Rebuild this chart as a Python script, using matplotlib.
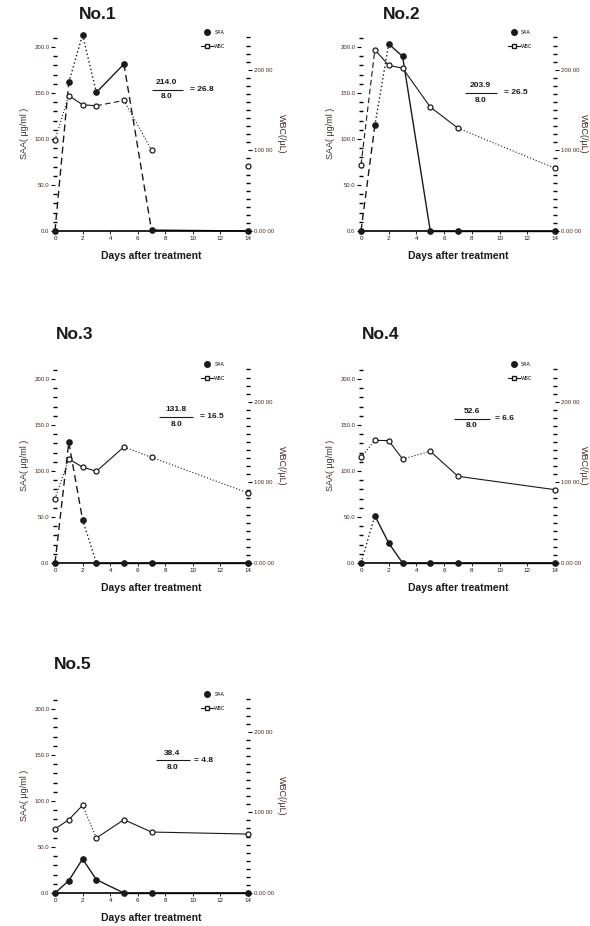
import matplotlib
matplotlib.use('Agg')
import matplotlib.pyplot as plt
from matplotlib.lines import Line2D
from matplotlib.ticker import MultipleLocator, FixedLocator

plt.rcParams['font.family'] = ['Liberation Sans', 'DejaVu Sans']

# ---- data ----
days = [0, 1, 2, 3, 5, 7, 14]
names = ['No.1', 'No.2', 'No.3', 'No.4', 'No.5']

saa1 = [0, 161.5, 213.4, 150.6, 181.5, 1.0, 0]
saa2 = [0, 114.7, 203.3, 189.8, 0, 0, 0]
saa3 = [0, 131.2, 47.1, 0, 0, 0, 0]
saa4 = [0, 51.4, 21.7, 0, 0, 0, 0]
saa5 = [0, 13.4, 37.0, 14.5, 0, 0, 0]

wbc1 = [11300, 16800, 15650, 15530, 16190, 10060, 8000]
wbc2 = [8200, 22480, 20540, 20200, 15370, 12750, 7780]
wbc3 = [7980, 12890, 11900, 11370, 14390, 13110, 8680]
wbc4 = [13110, 15210, 15170, 12890, 13850, 10750, 9090]
wbc5 = [7940, 9090, 10870, 6820, 9090, 7560, 7310]

# line style of each segment between consecutive points
saa_ls1 = ['--', ':', ':', '-', '--', '-']
saa_ls2 = ['--', ':', '-', '-', '-', '-']
saa_ls3 = ['--', '--', ':', '-', '-', '-']
saa_ls4 = [':', '-', '-', '-', '-', '-']
saa_ls5 = ['-', '-', '-', '-', '-', '-']

wbc_ls1 = [':', '-', '-', '--', ':', None]
wbc_ls2 = ['--', '-', '-', '-', '-', ':']
wbc_ls3 = [':', '-', '-', '-', ':', ':']
wbc_ls4 = [':', '-', '-', ':', '-', '-']
wbc_ls5 = ['-', '-', ':', '-', '-', '-']

numerators = ['214.0', '203.9', '131.8', '52.6', '38.4']
denominators = ['8.0', '8.0', '8.0', '8.0', '8.0']
results = ['26.8', '26.5', '16.5', '6.6', '4.8']

saa_all = [saa1, saa2, saa3, saa4, saa5]
wbc_all = [wbc1, wbc2, wbc3, wbc4, wbc5]
saa_ls_all = [saa_ls1, saa_ls2, saa_ls3, saa_ls4, saa_ls5]
wbc_ls_all = [wbc_ls1, wbc_ls2, wbc_ls3, wbc_ls4, wbc_ls5]

# ---- layout (pixels in a 590x926 figure) ----
W, H = 590, 926
px_per_unit = 0.92
ytop = 212
wbc_per_unit = 114.08
# (left axis x, right axis x, baseline y)
boxes = [(55, 248, 231), (361, 555, 231), (55, 248, 563), (361, 555, 563), (55, 248, 893)]
title_pos = [(0.22, 1.11), (0.21, 1.11), (0.10, 1.17), (0.10, 1.17), (0.09, 1.17)]
# fraction: x centre, line y, line x0, line x1, x of "= result"
frac_pos = [(8.1, 153.5, 7.0, 9.25, 9.8), (8.6, 150, 7.5, 9.8, 10.3),
            (8.8, 158.7, 7.55, 10.0, 10.5), (8.0, 156.9, 6.7, 9.3, 9.7),
            (8.5, 144.2, 7.3, 9.8, 10.1)]

STY = {'-': '-', '--': (0, (5, 3)), ':': (0, (1, 1.8))}
ink = '#1a1a1a'
lab_col = '#4a2a22'

fig = plt.figure(figsize=(W / 100, H / 100), dpi=100)

for i in range(5):
    L, R, B = boxes[i]
    hgt = ytop * px_per_unit
    ax = fig.add_axes([L / W, (H - B) / H, (R - L) / W, hgt / H])
    ax2 = ax.twinx()

    saa, wbc = saa_all[i], wbc_all[i]
    for k in range(len(days) - 1):
        ls = saa_ls_all[i][k]
        if ls:
            ax.plot(days[k:k + 2], saa[k:k + 2], color=ink, lw=1.0,
                    linestyle=STY[ls], clip_on=False)
        ls = wbc_ls_all[i][k]
        if ls:
            ax2.plot(days[k:k + 2], wbc[k:k + 2], color=ink, lw=0.8,
                     linestyle=STY[ls], clip_on=False)
    ax.plot(days, saa, 'o', color=ink, ms=3.8, clip_on=False, zorder=5)
    ax2.plot(days, wbc, 'o', mfc='white', mec=ink, mew=0.9, ms=3.6,
             clip_on=False, zorder=5)

    ax.set_xlim(0, 14)
    ax.set_ylim(0, ytop)
    ax2.set_ylim(0, ytop * wbc_per_unit)

    for a in (ax, ax2):
        a.patch.set_visible(False)
        a.spines['top'].set_visible(False)
        a.spines['left'].set_visible(False)
        a.spines['right'].set_visible(False)
    ax.spines['bottom'].set_linewidth(1.2)
    ax2.spines['bottom'].set_visible(False)

    ax.set_xticks(range(0, 15, 2))
    ax.tick_params(axis='x', labelsize=4.5, length=2, width=0.6, pad=1.5,
                   labelcolor=ink)
    ax.yaxis.set_major_locator(FixedLocator([0, 50, 100, 150, 200]))
    ax.set_yticklabels(['0.0', '50.0', '100.0', '150.0', '200.0'])
    ax.yaxis.set_minor_locator(MultipleLocator(10))
    ax.tick_params(axis='y', which='major', labelsize=4.3, length=3,
                   width=0.8, pad=1, labelcolor=lab_col)
    ax.tick_params(axis='y', which='minor', length=2.2, width=1.0,
                   direction='inout')

    ax2.yaxis.set_major_locator(FixedLocator([0, 10000, 20000]))
    ax2.set_yticklabels(['0.00 00', '100 00', '200 00'])
    ax2.yaxis.set_minor_locator(MultipleLocator(1000))
    ax2.tick_params(axis='y', which='major', labelsize=4.3, length=3,
                    width=0.8, pad=1, labelcolor=lab_col)
    ax2.tick_params(axis='y', which='minor', length=2.2, width=1.0,
                    direction='inout')

    ax.set_ylabel('SAA( μg/ml )', fontsize=6.5, color=lab_col, labelpad=4)
    ax2.set_ylabel('WBC(/μL)', fontsize=6.5, color=lab_col, rotation=270,
                   labelpad=9 if L < 300 else 5)
    ax.text(0.5, -0.13, 'Days after treatment', transform=ax.transAxes,
            ha='center', va='center', fontsize=7.5, fontweight='bold',
            color=ink)
    tx, ty = title_pos[i]
    ax.text(tx, ty, names[i], transform=ax.transAxes, ha='center',
            va='center', fontsize=12.5, fontweight='bold', color=ink)

    fx, fy, x0, x1, xr = frac_pos[i]
    ax.hlines(fy, x0, x1, color=ink, lw=0.8)
    ax.text(fx, fy + 4, numerators[i], ha='center', va='bottom', fontsize=6,
            fontweight='bold', color=ink)
    ax.text(fx, fy - 4, denominators[i], ha='center', va='top', fontsize=6,
            fontweight='bold', color=ink)
    ax.text(xr, fy, '= ' + results[i], ha='left', va='center', fontsize=6,
            fontweight='bold', color=ink)

    handles = [Line2D([], [], marker='o', color=ink, ls='none', ms=4),
               Line2D([], [], marker='s', mfc='white', mec=ink, color=ink,
                      lw=0.8, ms=3)]
    ax.legend(handles, ['SAA', 'WBC'], loc='upper left',
              bbox_to_anchor=(0.745, 1.045), frameon=False, fontsize=3.5,
              handlelength=2.4, handletextpad=0.3, labelspacing=1.9,
              borderpad=0)

fig.savefig('out.png', dpi=100)
